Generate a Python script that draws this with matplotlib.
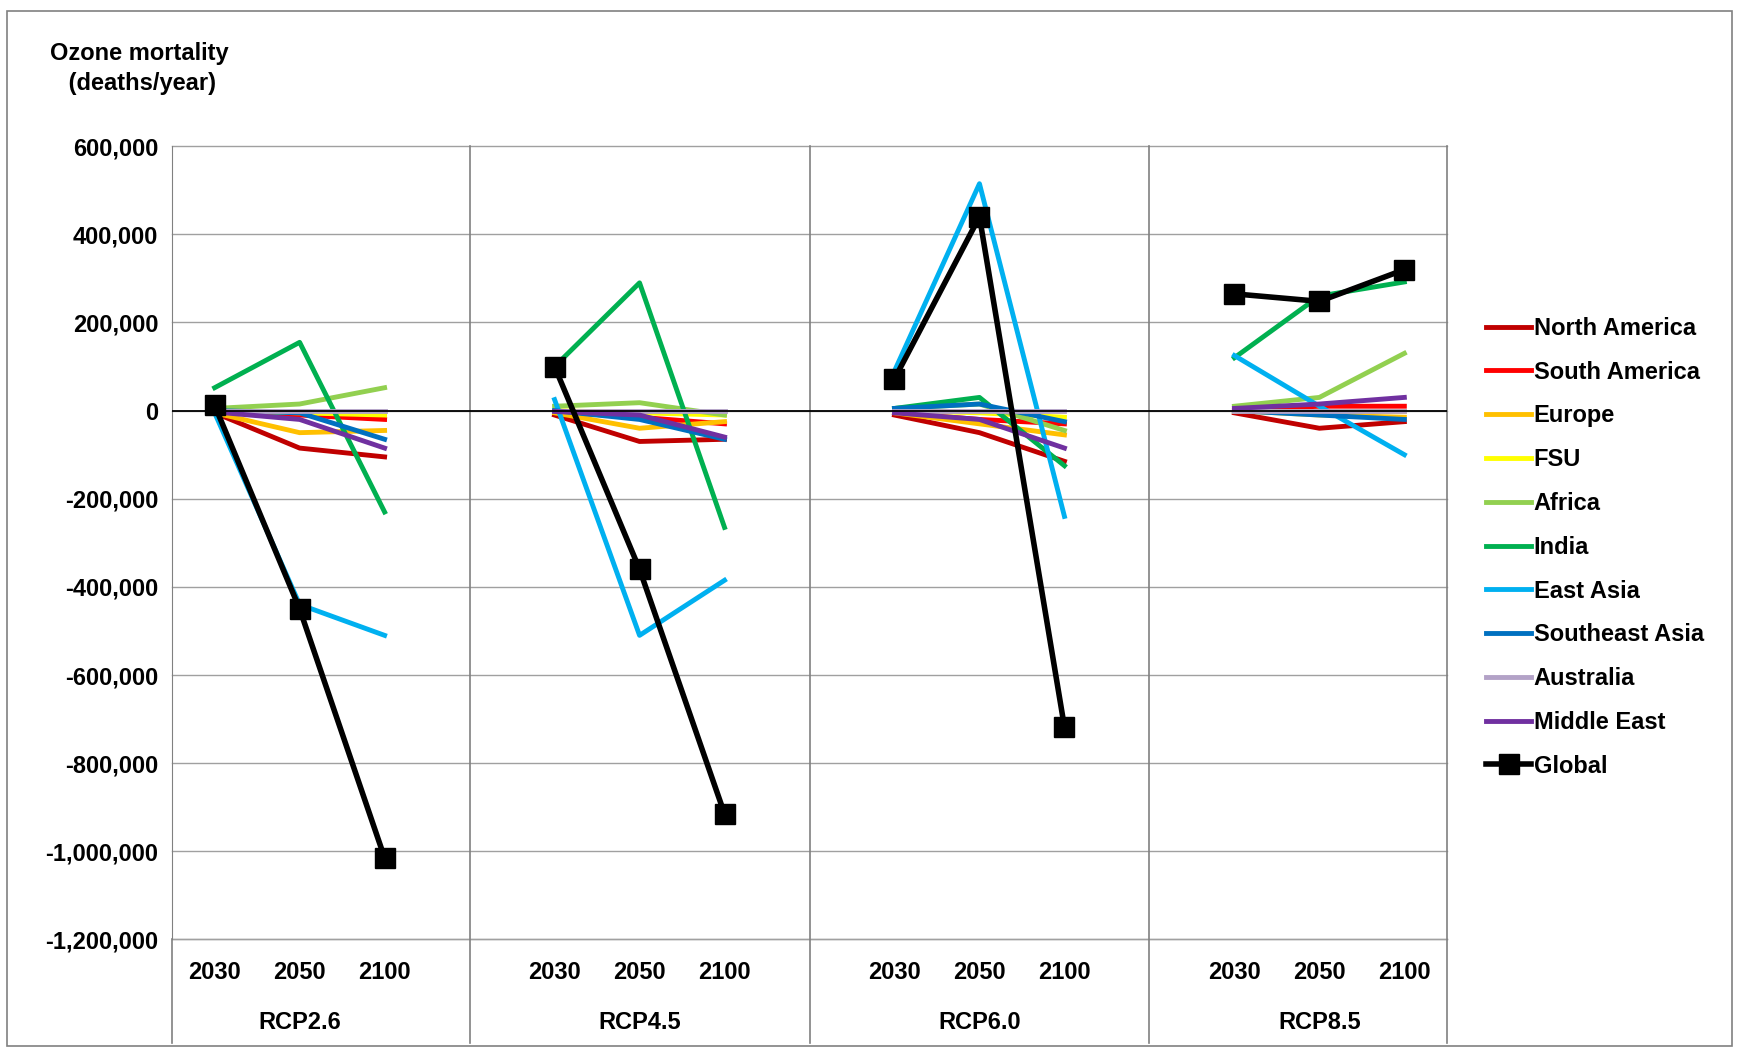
import numpy as np
import matplotlib.pyplot as plt
from matplotlib.patches import Rectangle

plt.rcParams["font.family"] = ["Liberation Sans", "DejaVu Sans"]
plt.rcParams["font.weight"] = "bold"

scenarios = ["RCP2.6", "RCP4.5", "RCP6.0", "RCP8.5"]
years = ["2030", "2050", "2100"]

regions = ["North America", "South America", "Europe", "FSU", "Africa", "India",
           "East Asia", "Southeast Asia", "Australia", "Middle East", "Global"]
colours = ["#C00000", "#FF0000", "#FFC000", "#FFFF00", "#92D050", "#00B050",
           "#00B0F0", "#0070C0", "#B3A2C7", "#7030A0", "#000000"]

# values per region: 4 scenarios x 3 years (deaths/year)
north_america = [[-5e3, -85e3, -105e3], [-10e3, -70e3, -65e3], [-10e3, -50e3, -115e3], [-5e3, -40e3, -25e3]]
south_america = [[-3e3, -10e3, -20e3], [-3e3, -15e3, -30e3], [-5e3, -20e3, -30e3], [0, 10e3, 10e3]]
europe = [[-5e3, -50e3, -45e3], [-5e3, -40e3, -25e3], [-5e3, -30e3, -55e3], [0, -10e3, -15e3]]
fsu = [[0, -5e3, -10e3], [0, -5e3, -10e3], [0, -5e3, -15e3], [0, 0, 0]]
africa = [[5e3, 15e3, 52e3], [10e3, 18e3, -10e3], [5e3, 15e3, -45e3], [10e3, 30e3, 130e3]]
india = [[52e3, 155e3, -230e3], [100e3, 290e3, -265e3], [5e3, 30e3, -125e3], [120e3, 260e3, 292e3]]
east_asia = [[-5e3, -440e3, -510e3], [25e3, -510e3, -385e3], [90e3, 515e3, -240e3], [125e3, 10e3, -100e3]]
southeast_asia = [[0, -5e3, -65e3], [0, -20e3, -65e3], [5e3, 15e3, -25e3], [0, -10e3, -20e3]]
australia = [[0, 0, 0], [0, 0, 0], [0, 0, 0], [0, 0, 0]]
middle_east = [[-3e3, -20e3, -85e3], [-2e3, -10e3, -60e3], [-5e3, -20e3, -85e3], [5e3, 15e3, 30e3]]
global_ = [[12e3, -450e3, -1015e3], [100e3, -360e3, -915e3], [72e3, 440e3, -718e3], [265e3, 248e3, 320e3]]
series = [north_america, south_america, europe, fsu, africa, india,
          east_asia, southeast_asia, australia, middle_east, global_]

fig = plt.figure(figsize=(17.39, 10.52), dpi=100)
ax = fig.add_axes([0.099, 0.107, 0.733, 0.754])
fig.patches.append(Rectangle((0.004, 0.006), 0.992, 0.984, transform=fig.transFigure,
                             fill=False, ec="#808080", lw=1.2))

for name, col, vals in zip(regions, colours, series):
    for g, v in enumerate(vals):
        xs = [g * 4 + k for k in range(3)]
        if name == "Global":
            ax.plot(xs, v, color=col, lw=4, marker="s", ms=14, zorder=5,
                    label=name if g == 0 else None)
        else:
            ax.plot(xs, v, color=col, lw=3.5, zorder=3,
                    label=name if g == 0 else None)

ax.set_xlim(-0.5, 14.5)
ax.set_ylim(-1.2e6, 6e5)
ticks = np.arange(-1.2e6, 6.01e5, 2e5)
ax.set_yticks(ticks)
ax.set_yticklabels([f"{int(v):,}" for v in ticks], fontsize=17)
ax.grid(axis="y", color="#A0A0A0", lw=1, clip_on=False)
ax.axhline(-1.2e6, color="#A0A0A0", lw=1, clip_on=False)
ax.axhline(0, color="black", lw=1.3, zorder=4)
ax.set_xticks([])
ax.tick_params(axis="y", length=0, pad=10)
for s in ["top", "right", "bottom"]:
    ax.spines[s].set_visible(False)
ax.spines["left"].set_color("#808080")

trans = ax.get_xaxis_transform()
for sep in [3, 7, 11]:
    ax.plot([sep, sep], [1, -0.13], color="#808080", lw=1.2, transform=trans, clip_on=False)
ax.plot([-0.5, -0.5], [0, -0.13], color="#808080", lw=1.2, transform=trans, clip_on=False)
ax.plot([14.5, 14.5], [1, -0.13], color="#808080", lw=1.2, transform=trans, clip_on=False)
for g, sc in enumerate(scenarios):
    for k, yr in enumerate(years):
        ax.text(g * 4 + k, -0.042, yr, transform=trans, ha="center", va="center", fontsize=17)
    ax.text(g * 4 + 1, -0.105, sc, transform=trans, ha="center", va="center", fontsize=17)

fig.text(0.08, 0.935, "Ozone mortality\n (deaths/year)", ha="center", va="center",
         fontsize=17, linespacing=1.4)

fig.legend(loc="upper left", bbox_to_anchor=(0.848, 0.71), frameon=False, fontsize=17,
           handlelength=1.9, handletextpad=0.1, labelspacing=0.88, borderpad=0)

fig.savefig("out.png", dpi=100)
